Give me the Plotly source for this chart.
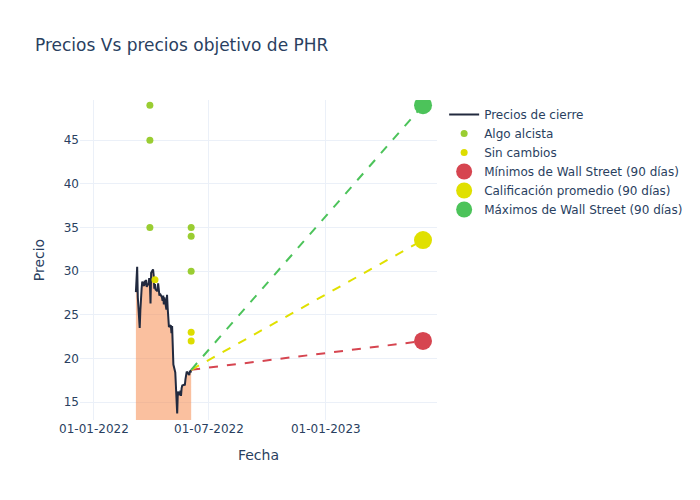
import pandas as pd
import plotly.graph_objects as go

# ---- data ----
price_dates = pd.bdate_range("2022-03-08", "2022-06-03")
prices = [27.6, 29.0, 30.5, 27.0, 23.5, 25.5, 27.5, 28.0, 28.8, 28.3,
          28.9, 28.4, 29.0, 28.2, 28.6, 29.2, 28.6, 26.3, 29.8, 30.2,
          29.5, 28.0, 28.5, 27.9, 27.7, 28.6, 27.9, 27.2, 27.4, 27.0,
          26.6, 27.2, 26.2, 27.0, 25.6, 27.3, 25.8, 24.5, 23.6, 23.8,
          22.9, 23.7, 20.6, 19.3, 18.4, 16.4, 15.9, 13.7, 16.2, 15.8,
          16.3, 15.7, 16.6, 16.9, 17.0, 16.9, 17.6, 18.1, 18.5, 18.2,
          18.1, 18.6, 18.4, 18.7]

alcista_dates = ["2022-03-30", "2022-03-30", "2022-03-30", "2022-06-03", "2022-06-03", "2022-06-03"]
alcista_values = [49, 45, 35, 35, 34, 30]
sin_cambios_dates = ["2022-04-07", "2022-06-03", "2022-06-03"]
sin_cambios_values = [29, 23, 22]

target_date = "2023-06-03"
target_low = 22
target_avg = 33.56
target_high = 49

x_range = ["2021-12-10", "2023-06-25"]
y_range = [12.95, 49.6]

last_date = price_dates[-1]
last_price = prices[-1]

fig = go.Figure()

fig.add_trace(go.Scatter(x=price_dates, y=prices, fill="tozeroy", mode="lines",
                         line=dict(width=0), fillcolor="rgba(245,140,80,0.55)",
                         showlegend=False, hoverinfo="skip"))
fig.add_trace(go.Scatter(x=price_dates, y=prices, mode="lines", name="Precios de cierre",
                         line=dict(color="#222A3F", width=2)))
fig.add_trace(go.Scatter(x=alcista_dates, y=alcista_values, mode="markers", name="Algo alcista",
                         marker=dict(color="#9ACD32", size=7)))
fig.add_trace(go.Scatter(x=sin_cambios_dates, y=sin_cambios_values, mode="markers", name="Sin cambios",
                         marker=dict(color="#DDDD00", size=7)))

targets = [("Mínimos de Wall Street (90 días)", target_low, "#D64550"),
           ("Calificación promedio (90 días)", target_avg, "#E0E000"),
           ("Máximos de Wall Street (90 días)", target_high, "#4CC35A")]
for name, val, col in targets:
    fig.add_trace(go.Scatter(x=[last_date, target_date], y=[last_price, val], mode="lines",
                             line=dict(color=col, width=2, dash="dash"), showlegend=False))
for name, val, col in targets:
    fig.add_trace(go.Scatter(x=[target_date], y=[val], mode="markers", name=name,
                             marker=dict(color=col, size=18)))

fig.update_layout(
    template="plotly_white",
    width=700, height=500,
    margin=dict(l=72, t=92, r=271, b=88, autoexpand=False),
    font=dict(family="DejaVu Sans"),
    title=dict(text="Precios Vs precios objetivo de PHR", x=27 / 700, xanchor="left",
               y=1 - 37 / 500, yanchor="middle"),
    legend=dict(x=1.02, y=1, xanchor="left", yanchor="top"),
    xaxis=dict(title="Fecha", range=x_range, tickformat="%d-%m-%Y",
               tickvals=["2022-01-01", "2022-07-01", "2023-01-01"]),
    yaxis=dict(title="Precio", range=y_range),
)

fig.write_html("out.html")
